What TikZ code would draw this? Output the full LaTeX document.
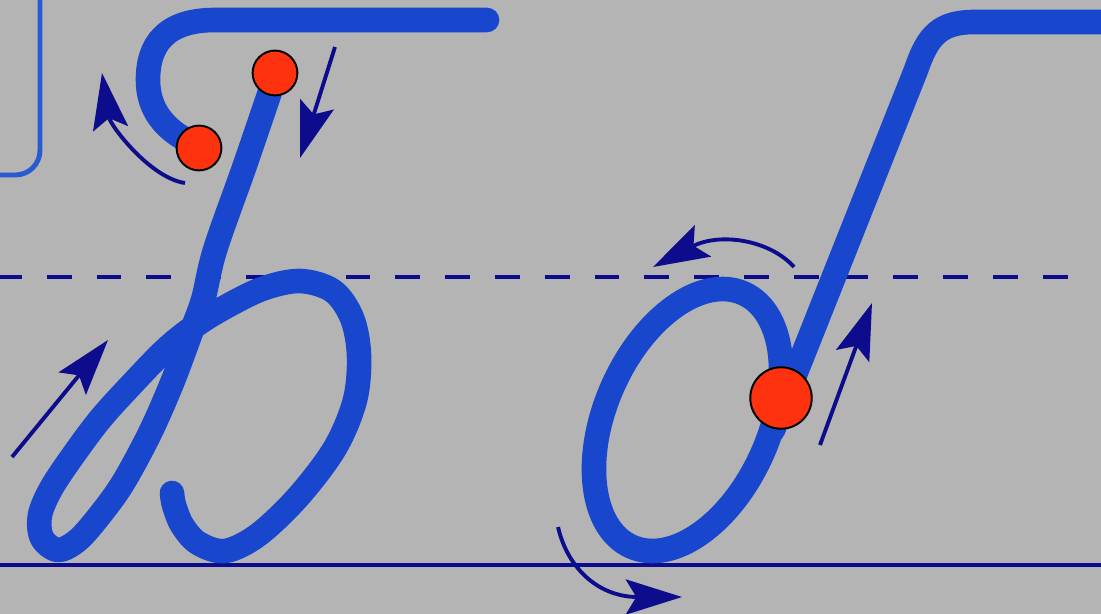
\documentclass[tikz,border=0pt]{standalone}
\usetikzlibrary{arrows.meta}
\definecolor{bg}{RGB}{180,180,180}
\definecolor{ink}{RGB}{24,70,204}
\definecolor{boxink}{RGB}{40,90,210}
\definecolor{navy}{RGB}{12,12,140}
\definecolor{dotred}{RGB}{255,50,15}
\begin{document}
\begin{tikzpicture}[x=0.02cm,y=-0.02cm,
  letter/.style={draw=ink, line width=14pt, line cap=round, line join=round},
  guide/.style={draw=navy, line width=2.3pt},
  hint/.style={draw=navy, line width=2.2pt, -{Stealth[length=32pt,width=20pt,inset=6pt]}},
  dot/.style={circle, fill=dotred, draw=black, line width=1.1pt, inner sep=0pt}]
\fill[bg] (0,0) rectangle (1101,614);
\useasboundingbox (0,0) rectangle (1101,614);
\begin{scope}
\clip (0,0) rectangle (1101,614);
% guide lines
\draw[guide] (-5,565) -- (1106,565);
\draw[guide, dash pattern=on 14.17pt off 14.17pt] (-3,277) -- (1080,277);
% corner of frame
\draw[draw=boxink, line width=2.8pt, rounded corners=14pt] (40,-5) -- (40,175) -- (-5,175);
% letter b: top hook
\draw[letter] (487,20) -- (215,20) .. controls (165,20) and (148,45) .. (148,80)
  .. controls (148,110) and (165,130) .. (192,143);
% letter b: stem, loop and bowl
\draw[letter] plot[smooth, tension=0.55] coordinates {
  (274,80) (245,165) (215,250) (203,300) (190,335) (172,383) (150,433)
  (123,483) (100,515) (78,540) (58,550) (42,538) (40,515) (52,487) (77,450)
  (102,417) (133,383) (165,350) (192,328) (220,310) (262,289) (300,281)
  (333,291) (352,318) (359,355) (355,400) (335,448) (298,497) (258,535)
  (225,551) (198,543) (182,525) (174,505) (172,493)};
% letter d: bowl
\draw[letter, rotate around={66.2:(687.5,420)}] (687.5,420) ellipse [x radius=138.5, y radius=82];
% letter d: stem and top stroke
\draw[letter] (1110,22) -- (975,22) .. controls (940,22) and (928,35) .. (916,70) -- (773,430);
% direction hints
\draw[hint] (185,183) .. controls (150,178) and (110,125) .. (102,73);
\draw[hint] (335,47) -- (300,158);
\draw[hint] (12,457) -- (108,340);
\draw[hint] (794,267) .. controls (770,240) and (720,232) .. (653,267);
\draw[hint] (820,445) -- (872,303);
\draw[hint] (558,527) .. controls (568,570) and (600,597) .. (682,597);
% start points
\node[dot, minimum size=25.5pt] (s1) at (199,148) {};
\node[dot, minimum size=25.5pt] (s2) at (275,73) {};
\node[dot, minimum size=35pt] (s3) at (781,398) {};
\end{scope}
\end{tikzpicture}
\end{document}
